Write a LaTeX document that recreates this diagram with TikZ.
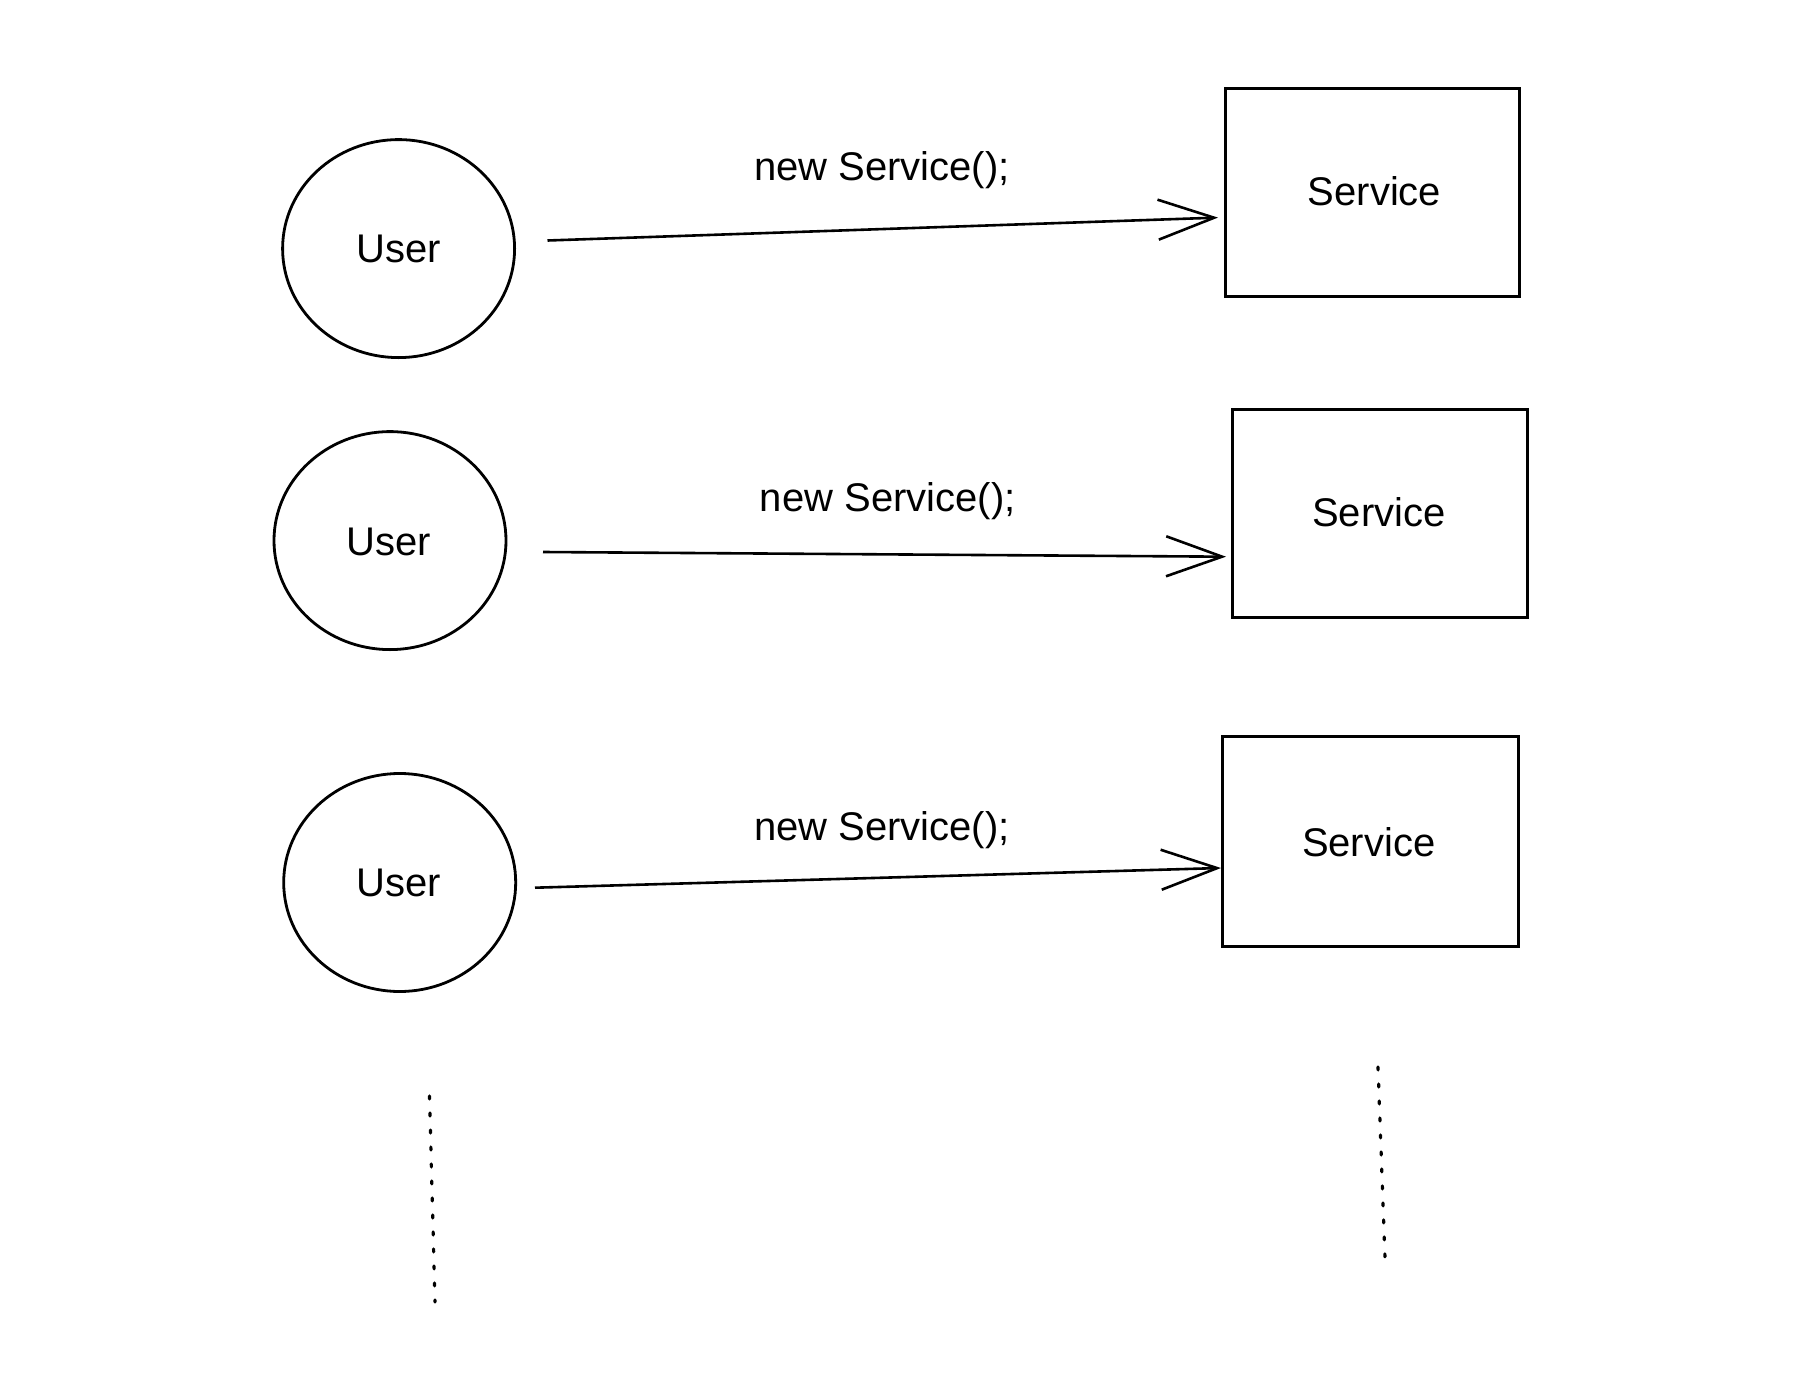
\documentclass[tikz,border=0pt]{standalone}
\usepackage{fontspec}
\setmainfont{Liberation Sans}
\usetikzlibrary{shapes.geometric,arrows.meta}
\begin{document}
\begin{tikzpicture}[x=0.5pt,y=-0.5pt,
  user/.style={ellipse,draw,line width=1.4pt,minimum width=116pt,minimum height=109pt,inner sep=0pt,font=\fontsize{20}{24}\selectfont},
  svc/.style={rectangle,draw,line width=1.5pt,inner sep=0pt,font=\fontsize{20}{24}\selectfont},
  lbl/.style={font=\fontsize{20}{24}\selectfont,inner sep=0pt},
  arr/.style={line width=1.3pt,-{Straight Barb[length=28pt,width=20pt,line width=1.3pt]}},
  dots/.style={line width=1.6pt,line cap=round,dash pattern=on 1.5pt off 7pt}]
\useasboundingbox (0,0) rectangle (1796,1392);
% users
\node[user] (u1) at (398.6,248.6) {};
\node[user] (u2) at (390,540.6) {};
\node[user] (u3) at (399.7,882.5) {};
\node[lbl] (ut1) at (398.6,248.5) {User};
\node[lbl] (ut2) at (389,541.5) {User};
\node[lbl] (ut3) at (398.6,883) {User};
% services
\node[svc,minimum width=147pt,minimum height=104pt] (s1) at (1372.8,192.8) {};
\node[svc,minimum width=147.5pt,minimum height=104pt] (s2) at (1379.5,513) {};
\node[svc,minimum width=148pt,minimum height=104.8pt] (s3) at (1370,841.3) {};
\node[lbl] (st1) at (1374.5,191.5) {Service};
\node[lbl] (st2) at (1379,512.5) {Service};
\node[lbl] (st3) at (1368.7,842.5) {Service};
% labels
\node[lbl] (l1) at (882,170) {new Service();};
\node[lbl] (l2) at (887.7,501) {new Service();};
\node[lbl] (l3) at (882,830) {new Service();};
% arrows
\coordinate (a1) at (547.5,240.5);
\coordinate (b1) at (1218,217.6);
\coordinate (a2) at (543,552);
\coordinate (b2) at (1226,556.7);
\coordinate (a3) at (535,887.7);
\coordinate (b3) at (1221,868);
\draw[arr] (a1) -- (b1);
\draw[arr] (a2) -- (b2);
\draw[arr] (a3) -- (b3);
% dotted continuation
\coordinate (d1a) at (429.5,1096);
\coordinate (d1b) at (435,1302);
\coordinate (d2a) at (1378,1067);
\coordinate (d2b) at (1385,1258);
\draw[dots] (d1a) -- (d1b);
\draw[dots] (d2a) -- (d2b);
\end{tikzpicture}
\end{document}
